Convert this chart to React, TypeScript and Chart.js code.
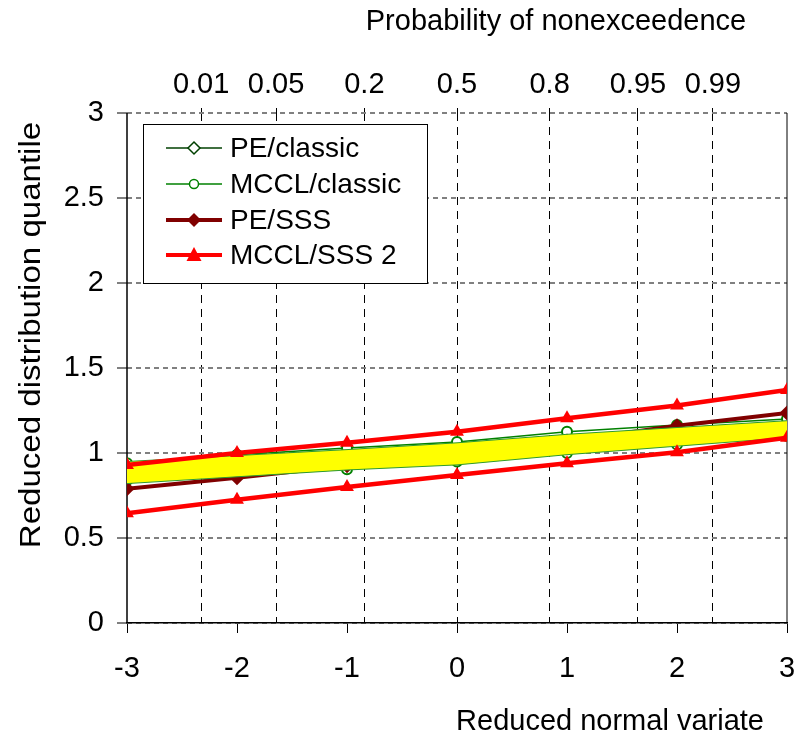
import React, { useEffect, useRef } from 'react';
import { Chart, registerables } from 'chart.js';

Chart.register(...registerables);

const xValues = [-3, -2, -1, 0, 1, 2, 3];
const peClassic = [0.855, 0.903, 0.952, 1.0, 1.048, 1.097, 1.145];
const mcclClassicUpper = [0.94, 0.99, 1.03, 1.065, 1.125, 1.165, 1.2];
const mcclClassicLower = [0.84, 0.87, 0.905, 0.95, 1.0, 1.05, 1.1];
const peSSS = [0.79, 0.855, 0.925, 0.995, 1.07, 1.16, 1.235];
const mcclSSSUpper = [0.93, 1.0, 1.06, 1.125, 1.205, 1.28, 1.37];
const mcclSSSLower = [0.645, 0.725, 0.8, 0.87, 0.94, 1.005, 1.09];
const bandUpper = [0.95, 0.985, 1.02, 1.06, 1.11, 1.15, 1.19];
const bandLower = [0.82, 0.86, 0.9, 0.93, 0.99, 1.04, 1.09];

const probLabels = ['0.01', '0.05', '0.2', '0.5', '0.8', '0.95', '0.99'];
const probPositions = [-2.326, -1.645, -0.842, 0, 0.842, 1.645, 2.326];
const yTicks = [0, 0.5, 1, 1.5, 2, 2.5, 3];
const xTicks = [-3, -2, -1, 0, 1, 2, 3];

const legendItems = ['PE/classic', 'MCCL/classic', 'PE/SSS', 'MCCL/SSS 2'];

const FONT = '"Liberation Sans", Arial, sans-serif';

const pts = (ys: number[]) => xValues.map((x, i) => ({ x, y: ys[i] }));

function drawMarker(ctx: CanvasRenderingContext2D, kind: string, x: number, y: number) {
  ctx.save();
  if (kind === 'diamondHollow') {
    ctx.beginPath();
    ctx.moveTo(x, y - 6); ctx.lineTo(x + 6, y); ctx.lineTo(x, y + 6); ctx.lineTo(x - 6, y); ctx.closePath();
    ctx.fillStyle = '#fff'; ctx.fill();
    ctx.strokeStyle = '#004000'; ctx.lineWidth = 1.5; ctx.stroke();
  } else if (kind === 'circleHollow') {
    ctx.beginPath(); ctx.arc(x, y, 4.5, 0, Math.PI * 2);
    ctx.fillStyle = '#fff'; ctx.fill();
    ctx.strokeStyle = '#008000'; ctx.lineWidth = 1.5; ctx.stroke();
  } else if (kind === 'diamond') {
    ctx.beginPath();
    ctx.moveTo(x, y - 7); ctx.lineTo(x + 7, y); ctx.lineTo(x, y + 7); ctx.lineTo(x - 7, y); ctx.closePath();
    ctx.fillStyle = '#800000'; ctx.fill();
  } else if (kind === 'triangle') {
    ctx.beginPath();
    ctx.moveTo(x, y - 8); ctx.lineTo(x + 7.5, y + 6); ctx.lineTo(x - 7.5, y + 6); ctx.closePath();
    ctx.fillStyle = '#ff0000'; ctx.fill();
  }
  ctx.restore();
}

const framePlugin = {
  id: 'frame',
  beforeDatasetsDraw(chart: any) {
    const { ctx, chartArea } = chart;
    ctx.save();
    ctx.strokeStyle = '#000';
    ctx.lineWidth = 1.5;
    ctx.beginPath();
    ctx.moveTo(chartArea.left, chartArea.top);
    ctx.lineTo(chartArea.left, chartArea.bottom);
    ctx.stroke();
    ctx.lineWidth = 1;
    ctx.beginPath();
    ctx.moveTo(chartArea.right, chartArea.top);
    ctx.lineTo(chartArea.right, chartArea.bottom);
    ctx.stroke();
    ctx.restore();
  },
  afterDraw(chart: any) {
    const { ctx } = chart;
    ctx.save();
    ctx.fillStyle = '#000';
    ctx.font = `29px ${FONT}`;
    ctx.textAlign = 'center';
    ctx.textBaseline = 'middle';
    ctx.fillText('Probability of nonexceedence', 556, 22);
    ctx.fillText('Reduced normal variate', 610, 722);
    ctx.save();
    ctx.translate(32, 335);
    ctx.rotate(-Math.PI / 2);
    ctx.scale(1.14, 1);
    ctx.fillText('Reduced distribution quantile', 0, 0);
    ctx.restore();

    // legend
    const bx = 143.5, by = 124.5, bw = 284, bh = 159;
    ctx.fillStyle = '#fff';
    ctx.fillRect(bx, by, bw, bh);
    ctx.strokeStyle = '#000';
    ctx.lineWidth = 1;
    ctx.strokeRect(bx, by, bw, bh);
    const rows = [148, 184, 220, 255];
    const lineColors = ['#004000', '#008000', '#800000', '#ff0000'];
    const lineWidths = [1.5, 1.5, 4, 4];
    const markers = ['diamondHollow', 'circleHollow', 'diamond', 'triangle'];
    rows.forEach((ry, i) => {
      ctx.strokeStyle = lineColors[i];
      ctx.lineWidth = lineWidths[i];
      ctx.beginPath();
      ctx.moveTo(166, ry);
      ctx.lineTo(222, ry);
      ctx.stroke();
      drawMarker(ctx, markers[i], 194, ry);
      ctx.fillStyle = '#000';
      ctx.font = `28px ${FONT}`;
      ctx.textAlign = 'left';
      ctx.textBaseline = 'middle';
      ctx.fillText(legendItems[i], 230, ry + 1);
    });
    ctx.restore();
  },
};

export default function App() {
  const ref = useRef<HTMLCanvasElement | null>(null);

  useEffect(() => {
    if (!ref.current) return;
    const tickFont = { family: FONT, size: 29 };
    const chart = new Chart(ref.current, {
      type: 'line',
      data: {
        datasets: [
          {
            label: 'MCCL/SSS 2',
            data: pts(mcclSSSUpper),
            borderColor: '#ff0000',
            backgroundColor: '#ff0000',
            borderWidth: 4.5,
            pointStyle: 'triangle',
            pointRadius: 8,
            pointBorderWidth: 0,
            order: 1,
          },
          {
            label: 'MCCL/SSS 2 lower',
            data: pts(mcclSSSLower),
            borderColor: '#ff0000',
            backgroundColor: '#ff0000',
            borderWidth: 4.5,
            pointStyle: 'triangle',
            pointRadius: 8,
            pointBorderWidth: 0,
            order: 1,
          },
          {
            label: 'band top',
            data: pts(bandUpper),
            borderColor: '#2e9a2e',
            borderWidth: 1,
            pointRadius: 0,
            fill: false,
            order: 2,
          },
          {
            label: 'band bottom',
            data: pts(bandLower),
            borderColor: '#2e9a2e',
            backgroundColor: '#ffff00',
            borderWidth: 1,
            pointRadius: 0,
            fill: 2,
            order: 3,
          },
          {
            label: 'PE/SSS',
            data: pts(peSSS),
            borderColor: '#800000',
            backgroundColor: '#800000',
            borderWidth: 4,
            pointStyle: 'rectRot',
            pointRadius: 7.5,
            pointBorderWidth: 0,
            order: 4,
          },
          {
            label: 'MCCL/classic',
            data: pts(mcclClassicUpper),
            borderColor: '#008000',
            backgroundColor: '#ffffff',
            borderWidth: 1.5,
            pointStyle: 'circle',
            pointRadius: 5,
            pointBorderWidth: 2,
            order: 5,
          },
          {
            label: 'MCCL/classic lower',
            data: pts(mcclClassicLower),
            borderColor: '#008000',
            backgroundColor: '#ffffff',
            borderWidth: 1.5,
            pointStyle: 'circle',
            pointRadius: 5,
            pointBorderWidth: 2,
            order: 5,
          },
          {
            label: 'PE/classic',
            data: pts(peClassic),
            borderColor: '#004000',
            backgroundColor: '#ffffff',
            borderWidth: 1.5,
            pointStyle: 'rectRot',
            pointRadius: 6,
            pointBorderWidth: 1.5,
            order: 6,
          },
        ],
      },
      options: {
        responsive: false,
        animation: false,
        layout: { padding: { left: 0, right: 9, top: 0, bottom: 0 } },
        elements: { line: { tension: 0 } },
        plugins: {
          legend: { display: false },
          tooltip: { enabled: false },
          title: { display: false },
        },
        scales: {
          x: {
            type: 'linear',
            position: 'bottom',
            min: -3,
            max: 3,
            afterBuildTicks: (s: any) => {
              s.ticks = xTicks.map((v) => ({ value: v }));
            },
            afterFit: (s: any) => {
              s.height = 117;
              s.paddingLeft = 0;
              s.paddingRight = 0;
            },
            ticks: {
              font: tickFont,
              color: '#000',
              padding: 19,
              maxRotation: 0,
              autoSkip: false,
              callback: (v: any) => String(v),
            },
            grid: {
              drawOnChartArea: false,
              drawTicks: true,
              tickLength: 10,
              tickColor: '#000',
              tickWidth: 1,
            },
            border: { display: true, color: '#000', width: 1.5 },
          },
          x2: {
            type: 'linear',
            position: 'top',
            min: -3,
            max: 3,
            afterBuildTicks: (s: any) => {
              s.ticks = probPositions.map((v) => ({ value: v }));
            },
            afterFit: (s: any) => {
              s.height = 113;
              s.paddingLeft = 0;
              s.paddingRight = 0;
            },
            ticks: {
              font: tickFont,
              color: '#000',
              padding: 6,
              maxRotation: 0,
              autoSkip: false,
              callback: (_v: any, i: number) => probLabels[i],
            },
            grid: {
              drawOnChartArea: true,
              drawTicks: true,
              tickLength: 5,
              color: '#000',
              lineWidth: 1,
              tickColor: '#000',
              tickWidth: 1,
              tickBorderDash: [],
            },
            border: { display: false, dash: [8, 6] },
          },
          y: {
            type: 'linear',
            position: 'left',
            min: 0,
            max: 3,
            afterBuildTicks: (s: any) => {
              s.ticks = yTicks.map((v) => ({ value: v }));
            },
            afterFit: (s: any) => {
              s.width = 127;
              s.paddingTop = 0;
              s.paddingBottom = 0;
            },
            ticks: {
              font: tickFont,
              color: '#000',
              padding: 13,
              callback: (v: any) => String(v),
            },
            grid: {
              drawOnChartArea: true,
              drawTicks: true,
              tickLength: 10,
              color: '#808080',
              lineWidth: 2,
              tickColor: '#000',
              tickWidth: 1,
              tickBorderDash: [],
            },
            border: { display: false, dash: [5, 4] },
          },
        },
      },
      plugins: [framePlugin],
    } as any);
    return () => chart.destroy();
  }, []);

  return (
    <div style={{ position: 'fixed', left: 0, top: 0, width: 796, height: 740, background: '#fff' }}>
      <canvas ref={ref} width={796} height={740} style={{ display: 'block' }} />
    </div>
  );
}
